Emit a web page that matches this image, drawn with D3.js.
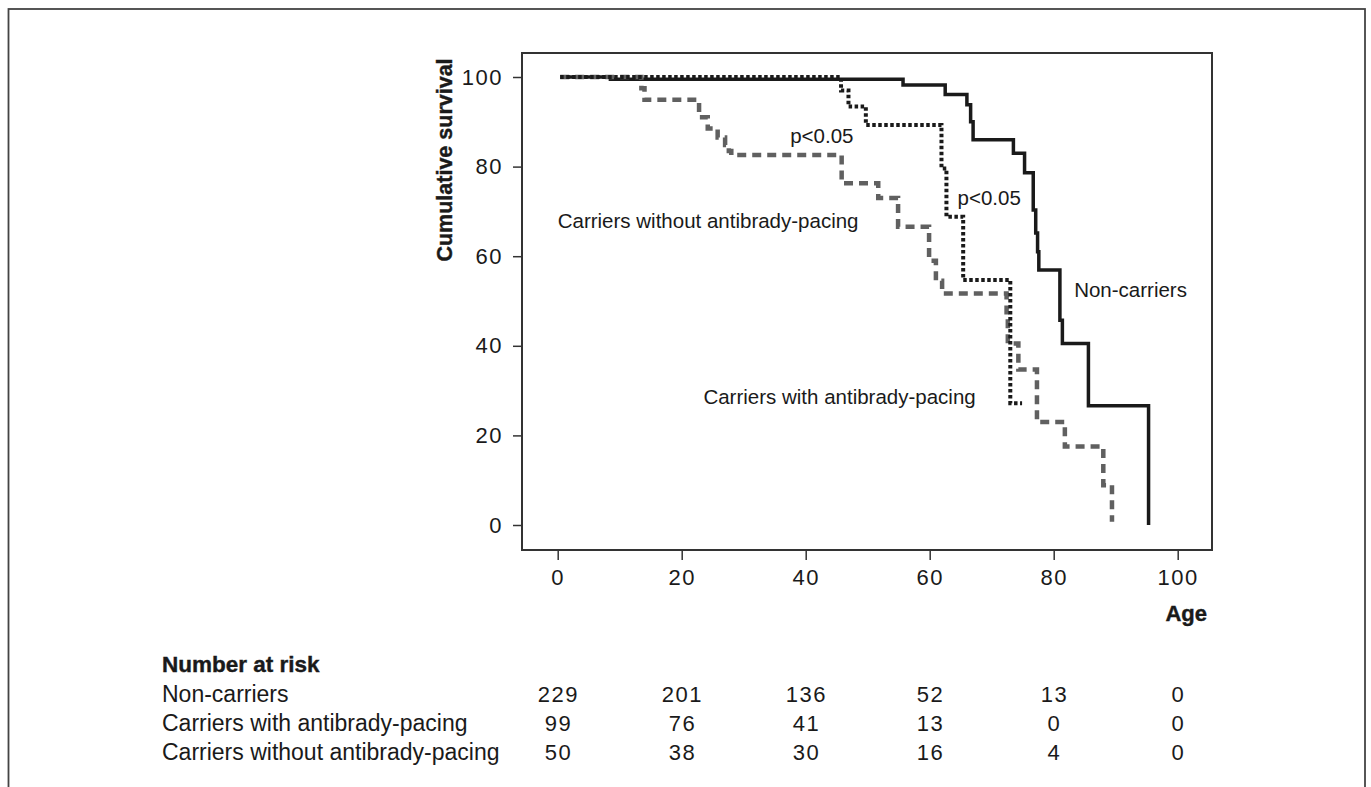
<!DOCTYPE html>
<html>
<head>
<meta charset="utf-8">
<script src="https://cdn.jsdelivr.net/npm/d3@7"></script>
<style>
  html, body { margin: 0; padding: 0; background: #fff; }
  svg { display: block; }
  text { font-family: "Liberation Sans", Arial, sans-serif; fill: #1a1a1a; }
</style>
</head>
<body>
<svg id="chart" width="1371" height="787"></svg>
<script>
// ---------- Data ----------
const xTicks = [0, 20, 40, 60, 80, 100];
const yTicks = [0, 20, 40, 60, 80, 100];

// Kaplan-Meier steps: age at which survival changes, and survival (%) after it
const nonCarriersAge  = [0.4, 8.5, 55.7, 62.5, 66.0, 66.6, 67.0, 73.5, 75.3, 76.7, 77.1, 77.4, 77.6, 81.0, 81.4, 85.6, 95.3];
const nonCarriersSurv = [100, 99.5, 98.2, 96.1, 93.8, 90.0, 86.0, 83.0, 78.6, 70.3, 65.2, 61.0, 56.9, 45.7, 40.5, 26.6, 0];

const withPacingAge  = [0.4, 45.7, 46.9, 49.7, 61.9, 62.7, 65.4, 73.0, 74.9];
const withPacingSurv = [100, 97.0, 93.4, 89.3, 79.6, 68.8, 54.7, 27.2, 27.2];

const withoutPacingAge  = [0.4, 13.5, 14.0, 22.8, 24.2, 25.8, 27.0, 27.6, 28.0, 45.8, 51.7, 54.9, 59.9, 61.0, 62.0, 72.4, 72.6, 74.3, 77.3, 81.8, 88.0, 89.4];
const withoutPacingSurv = [100, 97.5, 94.9, 91.0, 88.5, 86.5, 84.8, 83.5, 82.6, 76.3, 73.0, 66.6, 59.0, 54.5, 51.7, 46.0, 40.5, 34.7, 23.0, 17.5, 8.9, 0.7];

const riskLabels = ["Non-carriers", "Carriers with antibrady-pacing", "Carriers without antibrady-pacing"];
const riskNonCarriers   = [229, 201, 136, 52, 13, 0];
const riskWithPacing    = [99, 76, 41, 13, 0, 0];
const riskWithoutPacing = [50, 38, 30, 16, 4, 0];

const curveLabels = [
  { text: "p<0.05", age: 37.5, surv: 87 },
  { text: "p<0.05", age: 64.5, surv: 73 },
  { text: "Carriers without antibrady-pacing", age: 0, surv: 68 },
  { text: "Non-carriers", age: 83.3, surv: 52.5 },
  { text: "Carriers with antibrady-pacing", age: 23.5, surv: 28.7 }
];

// ---------- Layout ----------
const svg = d3.select("#chart");
const frame = { left: 522, top: 53, right: 1212, bottom: 550 };

const x = d3.scaleLinear().domain([0, 100]).range([557.7, 1177.7]);
const y = d3.scaleLinear().domain([0, 100]).range([525, 77]);

// outer figure border
svg.append("rect")
  .attr("x", 8.5).attr("y", 9).attr("width", 1365 - 8.5).attr("height", 800)
  .attr("fill", "none").attr("stroke", "#444").attr("stroke-width", 1.8);

// plot frame
svg.append("rect")
  .attr("x", frame.left).attr("y", frame.top)
  .attr("width", frame.right - frame.left).attr("height", frame.bottom - frame.top)
  .attr("fill", "none").attr("stroke", "#333").attr("stroke-width", 2);

// X axis
const xAxis = svg.append("g")
  .attr("transform", `translate(0,${frame.bottom})`)
  .call(d3.axisBottom(x).tickValues(xTicks).tickSize(10).tickPadding(9).tickFormat(d3.format("d")));
xAxis.select(".domain").remove();
xAxis.selectAll(".tick line").attr("stroke", "#333").attr("stroke-width", 1.5);
xAxis.selectAll(".tick text")
  .style("font-family", "'Liberation Sans', Arial, sans-serif")
  .style("font-size", "22px").style("letter-spacing", "1.5px").attr("fill", "#1a1a1a");

// Y axis
const yAxis = svg.append("g")
  .attr("transform", `translate(${frame.left},0)`)
  .call(d3.axisLeft(y).tickValues(yTicks).tickSize(9).tickPadding(10).tickFormat(d3.format("d")));
yAxis.select(".domain").remove();
yAxis.selectAll(".tick line").attr("stroke", "#333").attr("stroke-width", 1.5);
yAxis.selectAll(".tick text")
  .style("font-family", "'Liberation Sans', Arial, sans-serif")
  .style("font-size", "22px").style("letter-spacing", "1.5px").attr("fill", "#1a1a1a");

// Axis titles
svg.append("text")
  .attr("transform", "translate(452,160) rotate(-90)")
  .attr("text-anchor", "middle")
  .style("font-size", "21.5px").style("font-weight", "bold")
  .attr("stroke", "#1a1a1a").attr("stroke-width", 0.4)
  .text("Cumulative survival");

svg.append("text")
  .attr("x", 1207).attr("y", 621)
  .attr("text-anchor", "end")
  .style("font-size", "22px").style("font-weight", "bold")
  .attr("stroke", "#1a1a1a").attr("stroke-width", 0.4)
  .text("Age");

// ---------- Curves ----------
const line = d3.line().x(d => x(d[0])).y(d => y(d[1])).curve(d3.curveStepAfter);
const zip = (a, b) => a.map((v, i) => [v, b[i]]);

svg.append("path")
  .datum(zip(nonCarriersAge, nonCarriersSurv))
  .attr("d", line).attr("fill", "none")
  .attr("stroke", "#1a1a1a").attr("stroke-width", 3.5);

svg.append("path")
  .datum(zip(withoutPacingAge, withoutPacingSurv))
  .attr("d", line).attr("fill", "none")
  .attr("stroke", "#606060").attr("stroke-width", 4.5)
  .attr("stroke-dasharray", "9,6");

svg.append("path")
  .datum(zip(withPacingAge, withPacingSurv))
  .attr("d", line).attr("fill", "none")
  .attr("stroke", "#1a1a1a").attr("stroke-width", 4)
  .attr("stroke-dasharray", "3.5,2.5");

// curve labels
svg.append("g").selectAll("text")
  .data(curveLabels).join("text")
  .attr("x", d => x(d.age))
  .attr("y", d => y(d.surv))
  .attr("dominant-baseline", "central")
  .style("font-size", "20.5px")
  .text(d => d.text);

// ---------- Number at risk table ----------
const tableX = 162;
const rowY = [672, 702, 731, 760];

svg.append("text")
  .attr("x", tableX).attr("y", rowY[0])
  .style("font-size", "22.5px").style("font-weight", "bold")
  .attr("stroke", "#1a1a1a").attr("stroke-width", 0.4)
  .text("Number at risk");

const riskRows = [riskNonCarriers, riskWithPacing, riskWithoutPacing];
riskRows.forEach((vals, r) => {
  svg.append("text")
    .attr("x", tableX).attr("y", rowY[r + 1])
    .style("font-size", "23px")
    .text(riskLabels[r]);
  svg.append("g").selectAll("text")
    .data(vals).join("text")
    .attr("x", (d, i) => x(xTicks[i]) + 0.75)
    .attr("y", rowY[r + 1])
    .attr("text-anchor", "middle")
    .style("font-size", "22px").style("letter-spacing", "1.5px")
    .text(d => d);
});
</script>
</body>
</html>
